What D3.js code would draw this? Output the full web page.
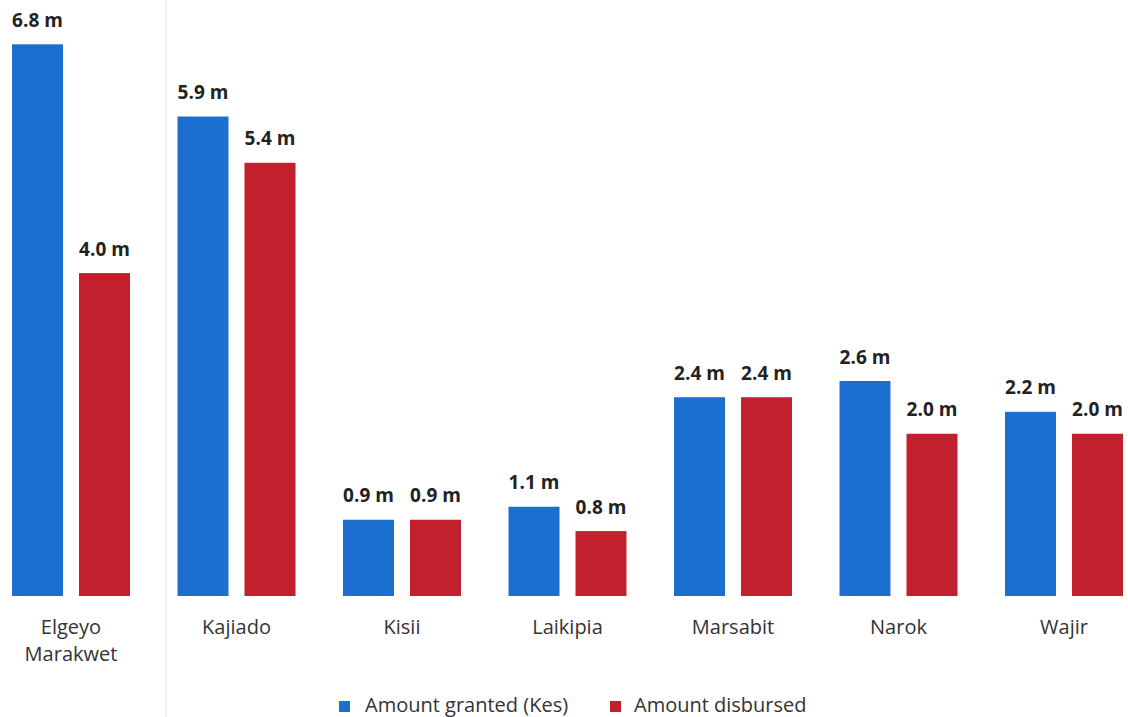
<!DOCTYPE html>
<html>
<head>
<meta charset="utf-8">
<script src="https://cdn.jsdelivr.net/npm/d3@7"></script>
<style>
  body { margin: 0; background: #fff; }
  svg { display: block; font-family: "Open Sans", sans-serif; }
  .value-label { font-weight: bold; font-size: 19px; fill: #222; }
  .cat-label { font-size: 20px; fill: #333; }
  .legend-label { font-size: 20px; fill: #333; }
</style>
</head>
<body>
<div id="chart-area"></div>
<script>
const categories = ["Elgeyo Marakwet", "Kajiado", "Kisii", "Laikipia", "Marsabit", "Narok", "Wajir"];
const series = ["Amount granted (Kes)", "Amount disbursed"];
const granted = [6.8, 5.91, 0.94, 1.10, 2.45, 2.65, 2.27];
const disbursed = [3.98, 5.34, 0.94, 0.80, 2.45, 2.00, 2.00];
const grantedLabels = ["6.8 m", "5.9 m", "0.9 m", "1.1 m", "2.4 m", "2.6 m", "2.2 m"];
const disbursedLabels = ["4.0 m", "5.4 m", "0.9 m", "0.8 m", "2.4 m", "2.0 m", "2.0 m"];
const colors = ["#1c6ecf", "#c2202c"];

const width = 1128, height = 717;

const svg = d3.select('#chart-area').append('svg')
    .attr('width', width)
    .attr('height', height);

// faint page fold from the scan
svg.append('line')
    .attr('x1', 166).attr('x2', 166)
    .attr('y1', 0).attr('y2', height)
    .attr('stroke', '#eeeeee')
    .attr('stroke-width', 1.5);

const x0 = d3.scaleBand().domain(categories).range([-11.75, 1146.75])
    .paddingInner(0.287).paddingOuter(0.1435);
const x1 = d3.scaleBand().domain(series).range([0, x0.bandwidth()]).paddingInner(0.239);
const y = d3.scaleLinear().domain([0, 7]).range([596, 596 - 7 * 81.13]);

const rows = categories.map((c, i) => ({
    cat: c,
    bars: [
        { s: series[0], v: granted[i], label: grantedLabels[i] },
        { s: series[1], v: disbursed[i], label: disbursedLabels[i] }
    ]
}));

const groups = svg.selectAll('.group')
    .data(rows)
    .enter().append('g')
    .attr('class', 'group')
    .attr('transform', d => `translate(${x0(d.cat)},0)`);

groups.selectAll('rect')
    .data(d => d.bars)
    .enter().append('rect')
    .attr('x', d => x1(d.s))
    .attr('y', d => y(d.v))
    .attr('width', x1.bandwidth())
    .attr('height', d => y(0) - y(d.v))
    .attr('fill', (d, i) => colors[i]);

groups.selectAll('.value-label')
    .data(d => d.bars)
    .enter().append('text')
    .attr('class', 'value-label')
    .attr('x', d => x1(d.s) + x1.bandwidth() / 2)
    .attr('y', d => y(d.v) - 17.5)
    .attr('text-anchor', 'middle')
    .text(d => d.label);

// category labels, wrapped on spaces
groups.append('text')
    .attr('class', 'cat-label')
    .attr('x', x0.bandwidth() / 2)
    .attr('y', 634)
    .attr('text-anchor', 'middle')
    .selectAll('tspan')
    .data(d => d.cat.split(' '))
    .enter().append('tspan')
    .attr('x', x0.bandwidth() / 2)
    .attr('dy', (d, i) => i === 0 ? 0 : 27)
    .text(d => d);

// legend
const legendPos = [{ sq: 339, tx: 365 }, { sq: 610, tx: 634 }];
const legend = svg.selectAll('.legend')
    .data(series)
    .enter().append('g')
    .attr('class', 'legend');

legend.append('rect')
    .attr('x', (d, i) => legendPos[i].sq)
    .attr('y', 701)
    .attr('width', 11)
    .attr('height', 11)
    .attr('fill', (d, i) => colors[i]);

legend.append('text')
    .attr('class', 'legend-label')
    .attr('x', (d, i) => legendPos[i].tx)
    .attr('y', 712)
    .text(d => d);
</script>
</body>
</html>
